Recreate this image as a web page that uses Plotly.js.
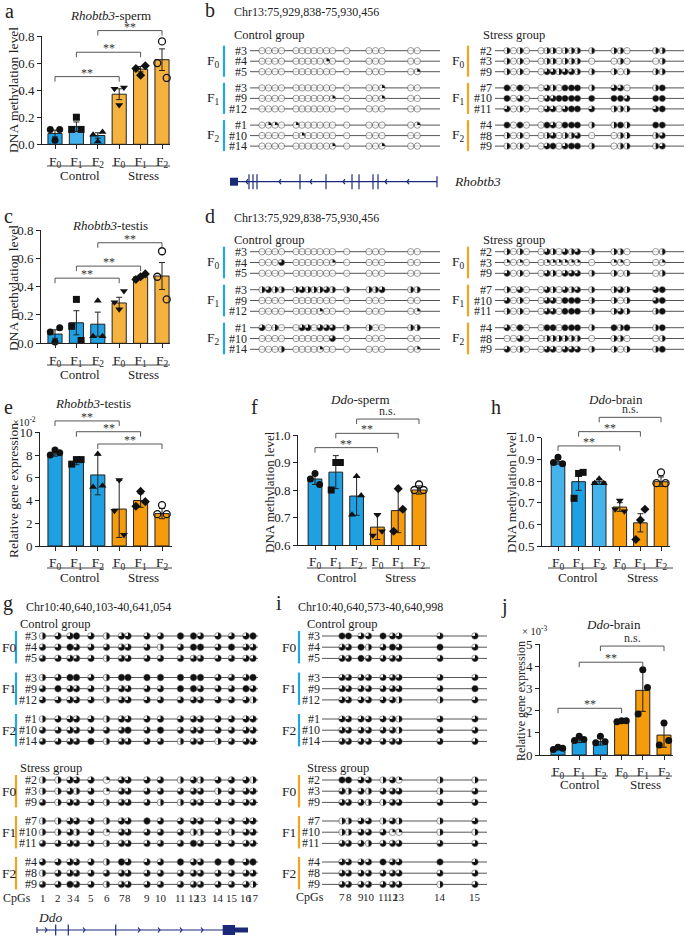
<!DOCTYPE html>
<html><head><meta charset="utf-8">
<script src="https://cdn.plot.ly/plotly-3.0.1.min.js"></script>
<style>html,body{margin:0;padding:0;background:#fff}#chart{width:685px;height:936px}</style>
</head><body><div id="chart"></div>
<script>
const W = 685, H = 936;

// ================= DATA =================
const FTICKS = ['F<sub>0</sub>','F<sub>1</sub>','F<sub>2</sub>','F<sub>0</sub>','F<sub>1</sub>','F<sub>2</sub>'];

// a: Rhobtb3-sperm methylation
const a_mean = [0.08, 0.13, 0.065, 0.37, 0.555, 0.625];
const a_err  = [0.025, 0.035, 0.02, 0.04, 0.02, 0.08];
const a_pts  = [[0.11,0.03,0.11],[0.11,0.20,0.11],[0.07,0.02,0.09],[0.41,0.29,0.42],[0.56,0.51,0.58],[0.60,0.76,0.49]];
const a_sig  = [[0,3,0.50,'**'],[1,4,0.68,'**'],[2,5,0.84,'**']];

// c: Rhobtb3-testis methylation
const c_mean = [0.065, 0.145, 0.135, 0.285, 0.47, 0.475];
const c_err  = [0.03, 0.085, 0.085, 0.04, 0.012, 0.095];
const c_pts  = [[0.08,0.01,0.11],[0.12,0.31,0.02],[0.05,0.30,0.05],[0.29,0.24,0.37],[0.45,0.47,0.49],[0.47,0.65,0.31]];
const c_sig  = [[0,3,0.46,'**'],[1,4,0.545,'**'],[2,5,0.71,'**']];

// e: Rhobtb3-testis expression (x10^-2)
const e_mean = [8.1, 7.4, 6.25, 3.25, 4.0, 2.85];
const e_err  = [0.2, 0.25, 1.75, 2.5, 0.6, 0.45];
const e_pts  = [[8.0,8.45,8.2],[7.2,7.6,7.6],[5.2,8.1,5.3],[3.1,5.8,1.0],[3.5,4.8,3.9],[2.8,3.6,2.8]];
const e_sig  = [[0,3,11.0,'**'],[1,4,10.05,'**'],[2,5,8.97,'**']];

// f: Ddo-sperm methylation
const f_mean = [0.84, 0.865, 0.778, 0.665, 0.725, 0.80];
const f_err  = [0.02, 0.06, 0.07, 0.045, 0.08, 0.015];
const f_pts  = [[0.84,0.86,0.82],[0.80,0.90,0.90],[0.71,0.85,0.78],[0.635,0.71,0.65],[0.65,0.805,0.73],[0.80,0.82,0.80]];
const f_sig  = [[0,3,0.954,'**'],[1,4,1.006,'**'],[2,5,1.058,'n.s.']];

// h: Ddo-brain methylation
const h_mean = [0.89, 0.797, 0.797, 0.68, 0.607, 0.797];
const h_err  = [0.012, 0.04, 0.012, 0.02, 0.042, 0.022];
const h_pts  = [[0.885,0.91,0.88],[0.72,0.835,0.84],[0.79,0.81,0.79],[0.67,0.71,0.66],[0.53,0.62,0.67],[0.79,0.84,0.79]];
const h_sig  = [[0,3,0.962,'**'],[1,4,1.028,'**'],[2,5,1.094,'n.s.']];

// j: Ddo-brain expression (x10^-3)
const j_mean = [0.3, 0.68, 0.6, 1.52, 2.92, 0.9];
const j_err  = [0.05, 0.12, 0.15, 0.05, 0.95, 0.55];
const j_pts  = [[0.25,0.35,0.3],[0.65,0.85,0.7],[0.55,0.85,0.6],[1.5,1.55,1.55],[1.85,3.85,3.05],[0.45,1.45,0.65]];
const j_sig  = [[0,3,2.11,'**'],[1,4,4.19,'**'],[2,5,4.92,'n.s.']];

// clone ids
const ctrlIds = ['#3','#4','#5','#3','#9','#12','#1','#10','#14'];
const strsIds = ['#2','#3','#9','#7','#10','#11','#4','#8','#9'];

// methylation per CpG (quarters filled, 0-4)
const b_ctrl = ['0000 0000000 0 000 00','0000 0000010 0 000 00','0000 0000000 0 000 01',
                '0000 0000000 0 001 00','0000 0000001 0 001 00','0000 0000000 0 000 00',
                '0110 1000000 0 000 01','0000 0100000 0 000 00','0000 0000001 0 001 00'];
const b_strs = ['2020 0220222 2 220 22','2020 0220222 0 020 02','2020 0332332 2 202 22',
                '4040 0320444 2 330 24','4030 0334444 4 443 44','3020 0330344 3 222 34',
                '4040 0430444 2 242 44','2020 0230223 0 022 23','2020 0340344 2 022 23'];
const d_ctrl = ['0000 0000000 0 000 00','0003 0000001 0 000 00','0000 0000000 0 000 00',
                '2322 2322232 2 223 22','0000 0000000 0 000 00','0000 0000100 0 000 01',
                '3020 0330333 2 200 22','0000 0000003 0 000 00','0002 0000100 0 000 01'];
const d_strs = ['2020 0320323 2 220 02','1010 0111111 0 110 01','3020 0320333 2 202 02',
                '2030 0320323 2 232 34','3020 0330444 2 202 34','2020 0330444 2 232 24',
                '3040 0440444 2 424 24','0030 0222222 0 220 02','3020 0330333 2 202 24'];
const g_ctrl = ['2334 3233 33 4433334','3343 3333 32 3443433','3333 3233 33 3333333',
                '2344 3244 44 4443334','3433 3233 33 4433343','3333 3233 33 3333332',
                '2333 3233 33 3333333','3333 3334 34 3333333','3333 4233 33 2332333'];
const g_strs = ['2233 3133 33 2323332','2232 3133 33 3332333','3233 3233 32 2333333',
                '2233 3233 43 3333333','2232 3133 33 3223233','3333 3233 33 3433333',
                '3333 3243 33 4334434','2333 3333 33 3333333','3343 3233 33 3333332'];
const i_ctrl = ['4433 43333','3342 34343','3343 33333','3333 33333','3333 33334','3333 33223',
                '3333 33233','3333 33233','3333 33333'];
const i_strs = ['4433 23122','3232 33323','3332 23333','2233 23223','2233 31122','3332 33333',
                '3333 43343','3333 33333','3333 33323'];
const g_cpgLabels = ['1','2','3','4','5','6','7','8','9','10','11','12','13','14','15','16','17'];
const i_cpgLabels = ['7','8','9','10','11','12','13','14','15'];

// ================= STYLE / LAYOUT CONSTANTS =================
const FONT = '"Liberation Serif", serif';
const BLUE = '#1EA0E3', BLUE_L = '#45B4EC', ORANGE_L = '#F6B23E', ORANGE = '#F59B0C';
const MBLUE = '#22A7E3', MORANGE = '#F5A21C', NAVY = '#1B2A78';
const SYM6 = ['circle','square','triangle-up','triangle-down','diamond','circle-open'];
const SYMJ = ['circle','circle','circle','circle','circle','circle'];
const OFF = [-0.22, 0, 0.22];

const BAR = [
 {box:[42,36,170,144.3], c0:55, sp:21.4, yr:[0,0.8], yt:[0,0.2,0.4,0.6,0.8], fmt:v=>v.toFixed(1),
  mean:a_mean, err:a_err, pts:a_pts, sig:a_sig, syms:SYM6, colors:[BLUE,BLUE_L,BLUE,ORANGE_L,ORANGE_L,ORANGE_L]},
 {box:[41,230,170,343.3], c0:55, sp:21.4, yr:[0,0.8], yt:[0,0.2,0.4,0.6,0.8], fmt:v=>v.toFixed(1),
  mean:c_mean, err:c_err, pts:c_pts, sig:c_sig, syms:SYM6, colors:[BLUE,BLUE,BLUE,ORANGE_L,ORANGE_L,ORANGE_L]},
 {box:[40,432.3,172,546], c0:55, sp:21.4, yr:[0,10], yt:[0,2,4,6,8,10], fmt:v=>String(v),
  mean:e_mean, err:e_err, pts:e_pts, sig:e_sig, syms:SYM6, colors:[BLUE,BLUE,BLUE,ORANGE,ORANGE,ORANGE]},
 {box:[298,435,427,545], c0:315, sp:20.8, yr:[0.6,1.0], yt:[0.6,0.7,0.8,0.9,1.0], fmt:v=>v.toFixed(1),
  mean:f_mean, err:f_err, pts:f_pts, sig:f_sig, syms:SYM6, colors:[BLUE,BLUE,BLUE,ORANGE,ORANGE,ORANGE]},
 {box:[542,437.7,670,546], c0:558, sp:20.6, yr:[0.5,1.0], yt:[0.5,0.6,0.7,0.8,0.9,1.0], fmt:v=>v.toFixed(1),
  mean:h_mean, err:h_err, pts:h_pts, sig:h_sig, syms:SYM6, colors:[BLUE_L,BLUE,BLUE_L,ORANGE,ORANGE,ORANGE]},
 {box:[540,644.3,673,755], c0:558, sp:21.2, yr:[0,5], yt:[0,1,2,3,4,5], fmt:v=>String(v),
  mean:j_mean, err:j_err, pts:j_pts, sig:j_sig, syms:SYMJ, colors:[BLUE,BLUE,BLUE,ORANGE,ORANGE,ORANGE]}
];

const traces = [], shapes = [], anns = [];
const layout = {
  width: W, height: H, margin:{l:0,r:0,t:0,b:0},
  paper_bgcolor:'#fff', plot_bgcolor:'rgba(0,0,0,0)', showlegend:false,
  font:{family:FONT, color:'#222', size:12},
  xaxis7:{domain:[0,1], range:[0,W], visible:false, fixedrange:true},
  yaxis7:{domain:[0,1], range:[H,0], visible:false, anchor:'x7', fixedrange:true}
};

function A(text, x, y, o){
  const base = {text, x, y, xref:'x7', yref:'y7', showarrow:false, xanchor:'center', yanchor:'middle',
                borderpad:0, font:{family:FONT, size:12, color:'#222'}};
  anns.push(Object.assign(base, o || {}));
}
function L(x0,y0,x1,y1,color,width){
  shapes.push({type:'line', xref:'x7', yref:'y7', x0, y0, x1, y1, line:{color:color||'#444', width:width||1}});
}
const fnt = (size)=>({family:FONT, size:size, color:'#222'});

// ---------- bar panels ----------
BAR.forEach((p,k)=>{
  const s = k===0 ? '' : String(k+1);
  const [l,t,r,b] = p.box;
  const hpx = b - t;
  layout['xaxis'+s] = {domain:[l/W, r/W], range:[(l-p.c0)/p.sp, (r-p.c0)/p.sp], anchor:'y'+s,
    tickmode:'array', tickvals:[0,1,2,3,4,5], ticktext:FTICKS, ticks:'outside', ticklen:4, tickwidth:1,
    tickcolor:'#222', showline:true, linecolor:'#222', linewidth:1, showgrid:false, zeroline:false,
    tickfont:fnt(13.5), fixedrange:true};
  layout['yaxis'+s] = {domain:[1-b/H, 1-t/H], range:p.yr, anchor:'x'+s,
    tickmode:'array', tickvals:p.yt, ticktext:p.yt.map(p.fmt), ticks:'outside', ticklen:4, tickwidth:1,
    tickcolor:'#222', showline:true, linecolor:'#222', linewidth:1, showgrid:false, zeroline:false,
    tickfont:fnt(13), fixedrange:true};
  traces.push({type:'bar', x:[0,1,2,3,4,5], y:p.mean, width:0.66, xaxis:'x'+s, yaxis:'y'+s,
    marker:{color:p.colors, line:{color:'#222', width:1}},
    error_y:{type:'data', array:p.err, visible:true, color:'#222', thickness:1, width:3}, hoverinfo:'skip'});
  p.pts.forEach((vals,gi)=>{
    const open = p.syms[gi].indexOf('open')>=0;
    traces.push({type:'scatter', mode:'markers', x:vals.map((v,j)=>gi+OFF[j]), y:vals,
      xaxis:'x'+s, yaxis:'y'+s, cliponaxis:false, hoverinfo:'skip',
      marker:{symbol:p.syms[gi], size:7, color:'#111', line:{color:'#111', width:open?1.3:0}}});
  });
  p.sig.forEach(([i,j,v,lab])=>{
    const fr = (v - p.yr[0])/(p.yr[1]-p.yr[0]);
    const dr = 5/hpx;
    const yref = 'y'+s+' domain', xref = 'x'+s;
    const ln = {color:'#555', width:1};
    shapes.push({type:'line', xref, yref, x0:i, x1:j, y0:fr, y1:fr, line:ln});
    shapes.push({type:'line', xref, yref, x0:i, x1:i, y0:fr, y1:fr-dr, line:ln});
    shapes.push({type:'line', xref, yref, x0:j, x1:j, y0:fr, y1:fr-dr, line:ln});
    anns.push({text:lab, xref, yref, x:(i+j)/2, y:fr, yanchor:'bottom', xanchor:'center', showarrow:false,
      borderpad:0, yshift: lab==='**' ? -4 : 0, font:{family:FONT, size:12, color:'#333'}});
  });
});

// group underline + labels
const GRP = [
  {uy:166, ty:175, cu:[47,100], su:[112,170], cx:80, sx:143},
  {uy:365, ty:374, cu:[47,100], su:[112,170], cx:80, sx:143},
  {uy:568, ty:577, cu:[47,104], su:[112,172], cx:80, sx:143},
  {uy:568, ty:577, cu:[307,367], su:[372,430], cx:337, sx:400},
  {uy:568, ty:577, cu:[548,607], su:[613,673], cx:578, sx:642},
  {uy:776, ty:784, cu:[551,608], su:[615,672], cx:580, sx:645}
];
GRP.forEach(g=>{
  L(g.cu[0], g.uy, g.cu[1], g.uy, '#444', 1);
  L(g.su[0], g.uy, g.su[1], g.uy, '#444', 1);
  A('Control', g.cx, g.ty, {font:fnt(13)});
  A('Stress', g.sx, g.ty, {font:fnt(13)});
});

// titles, axis titles, letters
const big = fnt(20);
const ttl = fnt(13);
A('a', 9, 11, {font:big}); A('b', 210, 10, {font:big}); A('c', 8, 216, {font:big});
A('d', 210, 216, {font:big}); A('e', 8, 407, {font:big}); A('f', 254, 407, {font:big});
A('h', 496, 407, {font:big}); A('g', 8, 603, {font:big}); A('i', 279, 603, {font:big});
A('j', 504, 606, {font:big});
A('<i>Rhobtb3</i>-sperm', 110, 15, {font:ttl});
A('<i>Rhobtb3</i>-testis', 110, 225, {font:ttl});
A('<i>Rhobtb3</i>-testis', 93, 403, {font:ttl});
A('<i>Ddo</i>-sperm', 360, 399, {font:ttl});
A('<i>Ddo</i>-brain', 615, 399, {font:ttl});
A('<i>Ddo</i>-brain', 613, 624, {font:ttl});
A('DNA methylation level', 13, 90, {textangle:-90, font:fnt(13.5)});
A('DNA methylation level', 13, 288, {textangle:-90, font:fnt(13.5)});
A('Relative gene expression', 13, 491, {textangle:-90, font:fnt(13.5)});
A('DNA methylation level', 269, 492, {textangle:-90, font:fnt(13)});
A('DNA methylation level', 511, 492, {textangle:-90, font:fnt(13)});
A('Relative gene expression', 521, 701, {textangle:-90, font:fnt(12)});
A('×10<sup>-2</sup>', 24, 421, {font:fnt(10.5)});
A('× 10<sup>-3</sup>', 534, 630, {font:fnt(10.5)});

// ---------- methylation panels ----------
const LX=[], LY=[], CX=[], CY=[], CS=[], WX=[], WY=[], BBX=[], BBY=[], OBX=[], OBY=[];
function rowYs(base, rs, gs){ const ys=[]; for(let g=0; g<3; g++) for(let r=0; r<3; r++) ys.push(base+g*gs+r*rs); return ys; }
function wedge(cx, cy, r, q){
  if(q<=0) return;
  const f=q/4;
  if(f>=1){
    for(let k=0;k<=32;k++){ const t=2*Math.PI*k/32; WX.push(cx+r*Math.sin(t)); WY.push(cy-r*Math.cos(t)); }
  } else {
    const n=Math.max(4, Math.round(32*f));
    WX.push(cx); WY.push(cy);
    for(let k=0;k<=n;k++){ const t=2*Math.PI*f*k/n; WX.push(cx+r*Math.sin(t)); WY.push(cy-r*Math.cos(t)); }
    WX.push(cx); WY.push(cy);
  }
  WX.push(null); WY.push(null);
}
function meth(c){
  const ys = c.ys;
  c.data.forEach((row, ri)=>{
    const vals = row.replace(/ /g,'').split('').map(Number);
    const y = ys[ri];
    LX.push(c.x0, c.x1, null); LY.push(y, y, null);
    vals.forEach((q, ci)=>{
      const x = c.xs[ci];
      CX.push(x); CY.push(y); CS.push(c.d);
      wedge(x, y, c.d/2 - 0.2, q);
    });
    A(c.ids[ri], c.idX, y, {xanchor:'right', font:fnt(12)});
  });
  for(let g=0; g<3; g++){
    const y0 = ys[g*3]-5, y1 = ys[g*3+2]+5;
    const tx = c.orange ? OBX : BBX, ty = c.orange ? OBY : BBY;
    tx.push(c.barX, c.barX, null); ty.push(y0, y1, null);
    A(c.grp[g], c.grpX, ys[g*3+1], {font:fnt(13.5)});
  }
}
const FSUB = ['F<sub>0</sub>','F<sub>1</sub>','F<sub>2</sub>'];
const FPLN = ['F0','F1','F2'];
const B_X = [262,268.5,275,281.5, 296,302,308,314,320,326.5,332.5, 346.7, 369,375.5,382, 410.7,417.3];
const B_XS = B_X.map(x=>x+245);
const G_X = [42.5,58,70,76.5, 91,106.5, 121.5,128, 147,160.5, 180.5,193.5,200.5, 218,231.5, 246,253];
const I_X = [342,348.5, 361,368.5, 383,392.5,399, 440, 475];

// b
const bY = rowYs(50.7, 10.5, 37.2);
meth({xs:B_X, x0:250, x1:440, ys:bY, data:b_ctrl, ids:ctrlIds, idX:248, grp:FSUB, grpX:213, barX:224, d:6.4});
meth({xs:B_XS, x0:495, x1:684, ys:bY, data:b_strs, ids:strsIds, idX:493, grp:FSUB, grpX:458, barX:468, d:6.4, orange:true});
A('Chr13:75,929,838-75,930,456', 233, 12, {xanchor:'left', font:fnt(12)});
A('Control group', 233, 35, {xanchor:'left', font:fnt(12.5)});
A('Stress group', 482, 35, {xanchor:'left', font:fnt(12.5)});
// d
const dY = rowYs(251.7, 10.8, 38);
meth({xs:B_X, x0:250, x1:440, ys:dY, data:d_ctrl, ids:ctrlIds, idX:248, grp:FSUB, grpX:213, barX:224, d:6.4});
meth({xs:B_XS, x0:495, x1:684, ys:dY, data:d_strs, ids:strsIds, idX:493, grp:FSUB, grpX:458, barX:468, d:6.4, orange:true});
A('Chr13:75,929,838-75,930,456', 233, 218, {xanchor:'left', font:fnt(12)});
A('Control group', 233, 240, {xanchor:'left', font:fnt(12.5)});
A('Stress group', 482, 240, {xanchor:'left', font:fnt(12.5)});
// g
const gYc = rowYs(636, 11.2, 41.5), gYs = rowYs(780, 11.2, 41);
meth({xs:G_X, x0:39, x1:258, ys:gYc, data:g_ctrl, ids:ctrlIds, idX:38, grp:FPLN, grpX:9, barX:16, d:6.8});
meth({xs:G_X, x0:39, x1:258, ys:gYs, data:g_strs, ids:strsIds, idX:38, grp:FPLN, grpX:9, barX:16, d:6.8, orange:true});
A('Chr10:40,640,103-40,641,054', 25, 607, {xanchor:'left', font:fnt(12)});
A('Control group', 19, 624, {xanchor:'left', font:fnt(12.5)});
A('Stress group', 19, 768, {xanchor:'left', font:fnt(12.5)});
A('CpGs', 17, 898, {font:fnt(12)});
g_cpgLabels.forEach((t,k)=>A(t, G_X[k], 898, {font:fnt(11)}));
// i
meth({xs:I_X, x0:322, x1:487, ys:gYc, data:i_ctrl, ids:ctrlIds, idX:321, grp:FPLN, grpX:289, barX:299, d:6.6});
meth({xs:I_X, x0:322, x1:487, ys:gYs, data:i_strs, ids:strsIds, idX:321, grp:FPLN, grpX:289, barX:299, d:6.6, orange:true});
A('Chr10:40,640,573-40,640,998', 297, 607, {xanchor:'left', font:fnt(12)});
A('Control group', 306, 624, {xanchor:'left', font:fnt(12.5)});
A('Stress group', 306, 768, {xanchor:'left', font:fnt(12.5)});
A('CpGs', 310, 897, {font:fnt(12)});
i_cpgLabels.forEach((t,k)=>A(t, I_X[k], 897, {font:fnt(11)}));

// ---------- gene models ----------
const GLX=[], GLY=[];
function seg(x0,y0,x1,y1){ GLX.push(x0,x1,null); GLY.push(y0,y1,null); }
// Rhobtb3 (panel b)
const RB_Y = 181.7;
seg(236, RB_Y, 437, RB_Y);
[249,253,257,300,326,352,359,373,378].forEach(x=>seg(x, RB_Y-7.5, x, RB_Y+7.5));
seg(437, RB_Y-5.5, 437, RB_Y+5.5);
[246,279,310,343,385,407].forEach(x=>{ GLX.push(x+2, x, x+2, null); GLY.push(RB_Y-2.5, RB_Y, RB_Y+2.5, null); });
A('<i>Rhobtb3</i>', 453, RB_Y, {xanchor:'left', font:fnt(13.5)});
// Ddo (panel g)
const DD_Y = 930;
seg(37, DD_Y, 223, DD_Y);
seg(37, DD_Y-3, 37, DD_Y+3);
[55.7,68.3,115.7].forEach(x=>seg(x, DD_Y-5.5, x, DD_Y+5.5));
[47,85,140,160,182,203].forEach(x=>{ GLX.push(x-2, x, x-2, null); GLY.push(DD_Y-2.5, DD_Y, DD_Y+2.5, null); });
A('<i>Ddo</i>', 37, 917, {xanchor:'left', font:fnt(13.5)});

// ---------- traces (overlay pixel axis) ----------
const ov = {xaxis:'x7', yaxis:'y7', hoverinfo:'skip', cliponaxis:false};
traces.push(Object.assign({type:'scatter', mode:'lines', x:LX, y:LY, line:{color:'#555', width:1}}, ov));
traces.push(Object.assign({type:'scatter', mode:'markers', x:CX, y:CY, marker:{size:CS, color:'#fff', line:{width:0}}}, ov));
traces.push(Object.assign({type:'scatter', mode:'none', x:WX, y:WY, fill:'toself', fillcolor:'#111', line:{width:0}}, ov));
traces.push(Object.assign({type:'scatter', mode:'markers', x:CX, y:CY, marker:{size:CS, color:'rgba(0,0,0,0)', line:{color:'#333', width:0.7}}}, ov));
traces.push(Object.assign({type:'scatter', mode:'lines', x:BBX, y:BBY, line:{color:MBLUE, width:2.2}}, ov));
traces.push(Object.assign({type:'scatter', mode:'lines', x:OBX, y:OBY, line:{color:MORANGE, width:2.2}}, ov));
traces.push(Object.assign({type:'scatter', mode:'lines', x:GLX, y:GLY, line:{color:NAVY, width:1.2}}, ov));
// thick exon blocks
traces.push(Object.assign({type:'scatter', mode:'lines', x:[230,238], y:[RB_Y,RB_Y], line:{color:NAVY, width:8}}, ov));
traces.push(Object.assign({type:'scatter', mode:'lines', x:[222.7,235], y:[DD_Y,DD_Y], line:{color:NAVY, width:10}}, ov));
traces.push(Object.assign({type:'scatter', mode:'lines', x:[235,248], y:[DD_Y,DD_Y], line:{color:NAVY, width:5}}, ov));

layout.shapes = shapes;
layout.annotations = anns;
Plotly.newPlot('chart', traces, layout, {staticPlot:true, displayModeBar:false});
</script></body></html>
